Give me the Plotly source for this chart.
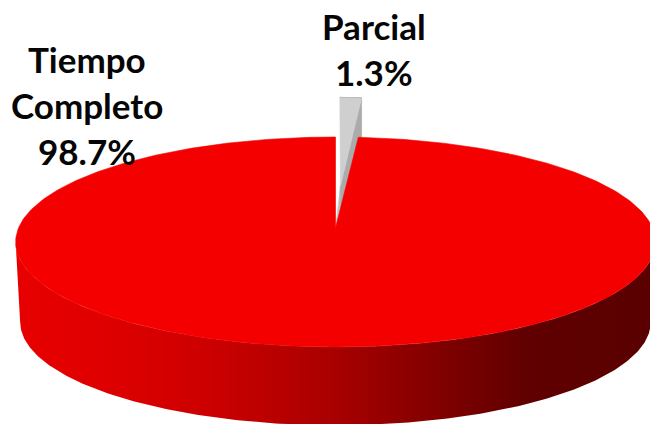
import math
import plotly.graph_objects as go

categories = ["Tiempo Completo", "Parcial"]
values = [98.7, 1.3]
label_lines = [["Tiempo", "Completo"], ["Parcial"]]

CX, AY = 335.5, 228.0
A, B, K = 103.1, 317.0, 0.1333
DEPTH, SHRINK = 80.0, 0.986
EXPLODE, LIFT = 0.398, 1.075


def project(u, v):
    d = 1 + K * v
    return CX + B * u / d, AY - A * v / d


def floor_pt(p):
    return CX + (p[0] - CX) * SHRINK, AY + (p[1] - AY) * SHRINK + DEPTH


def rim(t):
    return project(math.sin(t), math.cos(t))


theta = 2 * math.pi * values[1] / sum(values)

# front wall arc (between the two silhouette points of the rim)
lo = math.acos(-K)
hi = 2 * math.pi - lo
arc = [rim(lo + (hi - lo) * i / 240) for i in range(241)]
wall = arc + [floor_pt(p) for p in reversed(arc)]
wall_stops = [(0.0, "#E80000"), (0.17, "#DC0000"), (0.3, "#CC0000"), (0.5, "#A80000"),
              (0.68, "#7C0000"), (0.8, "#600000"), (1.0, "#5A0000")]

# large slice top
n = 400
top = [project(0, 0)] + [rim(theta + (2 * math.pi - theta) * i / n) for i in range(n + 1)]

# exploded small slice
eu, ev = EXPLODE * math.sin(theta / 2), EXPLODE * math.cos(theta / 2)


def wedge_pt(r, t):
    x, y = project(eu + r * math.sin(t), ev + r * math.cos(t))
    return x, AY + (y - AY) * LIFT


w_apex = wedge_pt(0, 0)
w_arc = [wedge_pt(1, theta * i / 12) for i in range(13)]
w_end = w_arc[-1]
face = [w_apex, w_end, (w_end[0], w_end[1] + DEPTH), (w_apex[0], w_apex[1] + DEPTH)]
strip = [w_apex, project(0, 0), (w_apex[0], project(0, 0)[1])]


def poly(pts, color, **kw):
    xs = [p[0] for p in pts] + [pts[0][0]]
    ys = [p[1] for p in pts] + [pts[0][1]]
    return go.Scatter(x=xs, y=ys, mode="lines", fill="toself", fillcolor=color,
                      line=dict(color=color, width=kw.pop("lw", 0.6)), hoverinfo="skip",
                      showlegend=False, **kw)


fig = go.Figure()
fig.add_trace(poly(strip, "#C4C4C4"))
fig.add_trace(poly(face, "#ABABAB"))
fig.add_trace(poly([w_apex] + w_arc, "#CFCFCF"))
fig.add_trace(go.Scatter(
    x=[p[0] for p in w_arc] + [w_arc[0][0]], y=[p[1] for p in w_arc] + [w_arc[0][1]],
    mode="lines", line=dict(color="#BDBDBD", width=1), hoverinfo="skip", showlegend=False))
fig.add_trace(go.Scatter(
    x=[p[0] for p in wall] + [wall[0][0]], y=[p[1] for p in wall] + [wall[0][1]],
    mode="lines", line=dict(width=0), fill="toself",
    fillgradient=dict(type="horizontal", colorscale=[[s, c] for s, c in wall_stops]),
    hoverinfo="skip", showlegend=False))
fig.add_trace(poly(top, "#F50000"))

labels = [
    (87, [59, 105, 151], label_lines[0] + [f"{values[0]}%"]),
    (374, [26, 72], label_lines[1] + [f"{values[1]}%"]),
]
annotations = []
for x, ys, lines in labels:
    for y, line in zip(ys, lines):
        annotations.append(dict(x=x, y=y, xref="x", yref="y", text=f"<b>{line}</b>", showarrow=False,
                                xanchor="center", yanchor="middle",
                                font=dict(family="Lato", size=35, color="#050505")))

fig.update_layout(
    width=650, height=424, margin=dict(l=0, r=0, t=0, b=0),
    paper_bgcolor="white", plot_bgcolor="white", showlegend=False,
    xaxis=dict(range=[0, 650], visible=False, fixedrange=True),
    yaxis=dict(range=[424, 0], visible=False, fixedrange=True),
    annotations=annotations,
)
fig.write_html("out.html", config={"displayModeBar": False},
               post_script="document.body.style.margin='0';document.documentElement.style.overflow='hidden';")
